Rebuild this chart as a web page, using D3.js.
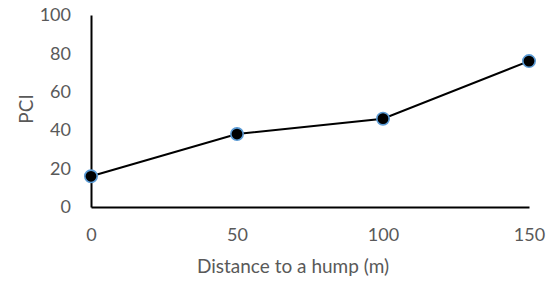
<!DOCTYPE html>
<html>
<head>
<meta charset="utf-8">
<script src="https://cdn.jsdelivr.net/npm/d3@7"></script>
<style>
  body { margin: 0; background: #fff; }
  text { font-family: Lato, "Liberation Sans", Arial, sans-serif; fill: #595959; }
</style>
</head>
<body>
<div id="chart"></div>
<script>
// data
const distances = [0, 50, 100, 150];
const pciValues = [16, 38, 46, 76];
const xTicks = [0, 50, 100, 150];
const yTicks = [0, 20, 40, 60, 80, 100];

const width = 555, height = 285;
const margin = { top: 15, right: 26, bottom: 78, left: 91 };
const innerW = width - margin.left - margin.right;
const innerH = height - margin.top - margin.bottom;

const svg = d3.select("#chart")
              .append("svg")
              .attr("width", width)
              .attr("height", height);

const g = svg.append("g")
             .attr("transform", `translate(${margin.left}, ${margin.top})`);

const x = d3.scaleLinear().domain([0, 150]).range([0, innerW]);
const y = d3.scaleLinear().domain([0, 100]).range([innerH, 0]);

// x axis
const xAxis = g.append("g")
               .attr("transform", `translate(0, ${innerH})`)
               .call(d3.axisBottom(x).tickValues(xTicks).tickSize(0).tickPadding(21));
xAxis.select(".domain").attr("stroke", "#000").attr("stroke-width", 2);
xAxis.selectAll("text").style("font-size", "18px").attr("fill", "#595959");

// y axis
const yAxis = g.append("g")
               .call(d3.axisLeft(y).tickValues(yTicks).tickSize(0).tickPadding(20));
yAxis.select(".domain").attr("stroke", "#000").attr("stroke-width", 2);
yAxis.selectAll("text").style("font-size", "18px").attr("fill", "#595959");

// axis titles
g.append("text")
 .attr("x", 202)
 .attr("y", innerH + 66)
 .style("text-anchor", "middle")
 .style("font-size", "19px")
 .text("Distance to a hump (m)");

g.append("text")
 .attr("transform", "rotate(-90)")
 .attr("x", -innerH / 2 + 2)
 .attr("y", -58)
 .style("text-anchor", "middle")
 .style("font-size", "19px")
 .text("PCI");

const data = distances.map((d, i) => ({ dist: d, pci: pciValues[i] }));

// line
g.append("path")
 .datum(data)
 .attr("fill", "none")
 .attr("stroke", "#000")
 .attr("stroke-width", 2)
 .attr("d", d3.line().x(d => x(d.dist)).y(d => y(d.pci)));

// markers
g.selectAll(".dot")
 .data(data)
 .enter()
 .append("circle")
 .attr("class", "dot")
 .attr("cx", d => x(d.dist))
 .attr("cy", d => y(d.pci))
 .attr("r", 6.2)
 .attr("fill", "#000")
 .attr("stroke", "#5B9BD5")
 .attr("stroke-width", 1.6);
</script>
</body>
</html>
